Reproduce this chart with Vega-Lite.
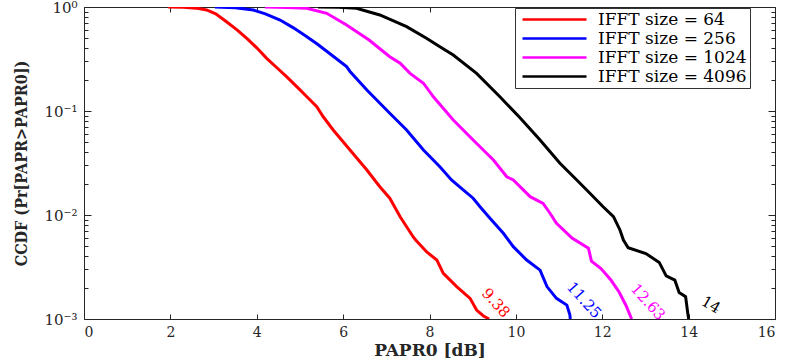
{
  "$schema": "https://vega.github.io/schema/vega-lite/v6.json",
  "width": 691,
  "height": 312,
  "autosize": {"type": "none"},
  "padding": {"left": 84, "top": 7, "right": 14, "bottom": 41},
  "background": "white",
  "config": {
    "view": {"stroke": null},
    "axis": {"grid": false, "domainColor": "#262626", "tickColor": "#262626", "labelColor": "#262626", "titleColor": "#262626", "labelFont": "DejaVu Serif", "titleFont": "DejaVu Serif"}
  },
  "datasets": {
    "curves": [
      {"series": "IFFT size = 64", "x": 1.95, "y": 1.0},
      {"series": "IFFT size = 64", "x": 2.3, "y": 0.995},
      {"series": "IFFT size = 64", "x": 2.6, "y": 0.975},
      {"series": "IFFT size = 64", "x": 2.84, "y": 0.936},
      {"series": "IFFT size = 64", "x": 3.05, "y": 0.86},
      {"series": "IFFT size = 64", "x": 3.3, "y": 0.722},
      {"series": "IFFT size = 64", "x": 3.55, "y": 0.6},
      {"series": "IFFT size = 64", "x": 3.77, "y": 0.5},
      {"series": "IFFT size = 64", "x": 4.0, "y": 0.405},
      {"series": "IFFT size = 64", "x": 4.23, "y": 0.321},
      {"series": "IFFT size = 64", "x": 4.46, "y": 0.262},
      {"series": "IFFT size = 64", "x": 4.69, "y": 0.214},
      {"series": "IFFT size = 64", "x": 4.95, "y": 0.168},
      {"series": "IFFT size = 64", "x": 5.16, "y": 0.137},
      {"series": "IFFT size = 64", "x": 5.39, "y": 0.11},
      {"series": "IFFT size = 64", "x": 5.54, "y": 0.088},
      {"series": "IFFT size = 64", "x": 5.77, "y": 0.0657},
      {"series": "IFFT size = 64", "x": 6.16, "y": 0.0422},
      {"series": "IFFT size = 64", "x": 6.55, "y": 0.0271},
      {"series": "IFFT size = 64", "x": 6.85, "y": 0.0187},
      {"series": "IFFT size = 64", "x": 7.08, "y": 0.0145},
      {"series": "IFFT size = 64", "x": 7.32, "y": 0.00963},
      {"series": "IFFT size = 64", "x": 7.62, "y": 0.00618},
      {"series": "IFFT size = 64", "x": 7.68, "y": 0.00575},
      {"series": "IFFT size = 64", "x": 7.93, "y": 0.00443},
      {"series": "IFFT size = 64", "x": 8.17, "y": 0.00369},
      {"series": "IFFT size = 64", "x": 8.32, "y": 0.00275},
      {"series": "IFFT size = 64", "x": 8.63, "y": 0.00205},
      {"series": "IFFT size = 64", "x": 8.94, "y": 0.00158},
      {"series": "IFFT size = 64", "x": 9.09, "y": 0.00122},
      {"series": "IFFT size = 64", "x": 9.25, "y": 0.00107},
      {"series": "IFFT size = 64", "x": 9.38, "y": 0.001},
      {"series": "IFFT size = 256", "x": 3.03, "y": 1.0},
      {"series": "IFFT size = 256", "x": 3.5, "y": 0.985},
      {"series": "IFFT size = 256", "x": 3.92, "y": 0.936},
      {"series": "IFFT size = 256", "x": 4.2, "y": 0.86},
      {"series": "IFFT size = 256", "x": 4.54, "y": 0.75},
      {"series": "IFFT size = 256", "x": 4.85, "y": 0.63},
      {"series": "IFFT size = 256", "x": 5.16, "y": 0.518},
      {"series": "IFFT size = 256", "x": 5.4, "y": 0.44},
      {"series": "IFFT size = 256", "x": 5.62, "y": 0.375},
      {"series": "IFFT size = 256", "x": 6.08, "y": 0.267},
      {"series": "IFFT size = 256", "x": 6.16, "y": 0.24},
      {"series": "IFFT size = 256", "x": 6.55, "y": 0.159},
      {"series": "IFFT size = 256", "x": 7.08, "y": 0.0951},
      {"series": "IFFT size = 256", "x": 7.47, "y": 0.0657},
      {"series": "IFFT size = 256", "x": 7.86, "y": 0.0422},
      {"series": "IFFT size = 256", "x": 8.24, "y": 0.0291},
      {"series": "IFFT size = 256", "x": 8.51, "y": 0.0217},
      {"series": "IFFT size = 256", "x": 8.78, "y": 0.0174},
      {"series": "IFFT size = 256", "x": 9.01, "y": 0.0145},
      {"series": "IFFT size = 256", "x": 9.17, "y": 0.012},
      {"series": "IFFT size = 256", "x": 9.4, "y": 0.00929},
      {"series": "IFFT size = 256", "x": 9.71, "y": 0.00667},
      {"series": "IFFT size = 256", "x": 9.94, "y": 0.00496},
      {"series": "IFFT size = 256", "x": 10.25, "y": 0.00369},
      {"series": "IFFT size = 256", "x": 10.56, "y": 0.00295},
      {"series": "IFFT size = 256", "x": 10.72, "y": 0.00205},
      {"series": "IFFT size = 256", "x": 10.94, "y": 0.00158},
      {"series": "IFFT size = 256", "x": 11.18, "y": 0.00136},
      {"series": "IFFT size = 256", "x": 11.25, "y": 0.0011},
      {"series": "IFFT size = 256", "x": 11.26, "y": 0.001},
      {"series": "IFFT size = 1024", "x": 4.19, "y": 1.0},
      {"series": "IFFT size = 1024", "x": 4.7, "y": 0.99},
      {"series": "IFFT size = 1024", "x": 5.16, "y": 0.972},
      {"series": "IFFT size = 1024", "x": 5.62, "y": 0.87},
      {"series": "IFFT size = 1024", "x": 6.08, "y": 0.671},
      {"series": "IFFT size = 1024", "x": 6.6, "y": 0.482},
      {"series": "IFFT size = 1024", "x": 7.08, "y": 0.333},
      {"series": "IFFT size = 1024", "x": 7.32, "y": 0.288},
      {"series": "IFFT size = 1024", "x": 7.55, "y": 0.23},
      {"series": "IFFT size = 1024", "x": 7.86, "y": 0.185},
      {"series": "IFFT size = 1024", "x": 8.09, "y": 0.137},
      {"series": "IFFT size = 1024", "x": 8.55, "y": 0.0819},
      {"series": "IFFT size = 1024", "x": 9.01, "y": 0.0526},
      {"series": "IFFT size = 1024", "x": 9.48, "y": 0.0338},
      {"series": "IFFT size = 1024", "x": 9.79, "y": 0.0233},
      {"series": "IFFT size = 1024", "x": 9.94, "y": 0.0217},
      {"series": "IFFT size = 1024", "x": 10.33, "y": 0.015},
      {"series": "IFFT size = 1024", "x": 10.63, "y": 0.0129},
      {"series": "IFFT size = 1024", "x": 10.79, "y": 0.0104},
      {"series": "IFFT size = 1024", "x": 10.94, "y": 0.00832},
      {"series": "IFFT size = 1024", "x": 11.3, "y": 0.006},
      {"series": "IFFT size = 1024", "x": 11.68, "y": 0.0048},
      {"series": "IFFT size = 1024", "x": 11.75, "y": 0.0036},
      {"series": "IFFT size = 1024", "x": 11.97, "y": 0.00305},
      {"series": "IFFT size = 1024", "x": 12.2, "y": 0.00237},
      {"series": "IFFT size = 1024", "x": 12.39, "y": 0.00182},
      {"series": "IFFT size = 1024", "x": 12.55, "y": 0.00135},
      {"series": "IFFT size = 1024", "x": 12.68, "y": 0.001},
      {"series": "IFFT size = 4096", "x": 5.42, "y": 1.0},
      {"series": "IFFT size = 4096", "x": 5.9, "y": 0.995},
      {"series": "IFFT size = 4096", "x": 6.31, "y": 0.972},
      {"series": "IFFT size = 4096", "x": 6.85, "y": 0.838},
      {"series": "IFFT size = 4096", "x": 7.47, "y": 0.647},
      {"series": "IFFT size = 4096", "x": 7.93, "y": 0.5},
      {"series": "IFFT size = 4096", "x": 8.24, "y": 0.415},
      {"series": "IFFT size = 4096", "x": 8.55, "y": 0.345},
      {"series": "IFFT size = 4096", "x": 9.09, "y": 0.23},
      {"series": "IFFT size = 4096", "x": 9.63, "y": 0.137},
      {"series": "IFFT size = 4096", "x": 10.09, "y": 0.0866},
      {"series": "IFFT size = 4096", "x": 10.56, "y": 0.0526},
      {"series": "IFFT size = 4096", "x": 11.02, "y": 0.0314},
      {"series": "IFFT size = 4096", "x": 11.41, "y": 0.0217},
      {"series": "IFFT size = 4096", "x": 11.72, "y": 0.0161},
      {"series": "IFFT size = 4096", "x": 12.02, "y": 0.012},
      {"series": "IFFT size = 4096", "x": 12.26, "y": 0.00963},
      {"series": "IFFT size = 4096", "x": 12.41, "y": 0.00718},
      {"series": "IFFT size = 4096", "x": 12.49, "y": 0.00575},
      {"series": "IFFT size = 4096", "x": 12.6, "y": 0.00485},
      {"series": "IFFT size = 4096", "x": 13.01, "y": 0.00426},
      {"series": "IFFT size = 4096", "x": 13.32, "y": 0.0035},
      {"series": "IFFT size = 4096", "x": 13.48, "y": 0.0026},
      {"series": "IFFT size = 4096", "x": 13.68, "y": 0.00237},
      {"series": "IFFT size = 4096", "x": 13.78, "y": 0.0018},
      {"series": "IFFT size = 4096", "x": 13.93, "y": 0.00164},
      {"series": "IFFT size = 4096", "x": 13.98, "y": 0.00114},
      {"series": "IFFT size = 4096", "x": 14.0, "y": 0.001}
    ],
    "labels": [
      {"series": "IFFT size = 64", "x": 9.54, "y": 0.00143, "label": "9.38"},
      {"series": "IFFT size = 256", "x": 11.58, "y": 0.00152, "label": "11.25"},
      {"series": "IFFT size = 1024", "x": 13.06, "y": 0.00146, "label": "12.63"},
      {"series": "IFFT size = 4096", "x": 14.52, "y": 0.00137, "label": "14"}
    ]
  },
  "layer": [
    {
      "data": {"name": "curves"},
      "mark": {"type": "line", "strokeWidth": 3, "clip": true},
      "encoding": {
        "x": {"field": "x", "type": "quantitative", "scale": {"domain": [0, 16], "nice": false, "zero": false},
          "axis": {"orient": "bottom", "values": [0, 2, 4, 6, 8, 10, 12, 14, 16], "tickSize": -5, "labelPadding": 11, "labelFontSize": 14, "title": "PAPR0 [dB]", "titleFontSize": 17, "titleFontWeight": "bold", "titlePadding": 3}},
        "y": {"field": "y", "type": "quantitative", "scale": {"type": "log", "domain": [0.001, 1], "nice": false},
          "axis": {"orient": "left",
            "values": [0.001, 0.002, 0.003, 0.004, 0.005, 0.006, 0.007, 0.008, 0.009, 0.01, 0.02, 0.03, 0.04, 0.05, 0.06, 0.07, 0.08, 0.09, 0.1, 0.2, 0.3, 0.4, 0.5, 0.6, 0.7, 0.8, 0.9, 1],
            "tickSize": {"condition": {"test": "datum.value == 1 || datum.value == 0.1 || datum.value == 0.01 || datum.value == 0.001", "value": -7}, "value": -4},
            "labelExpr": "datum.value == 1 ? '10⁰' : datum.value == 0.1 ? '10⁻¹' : datum.value == 0.01 ? '10⁻²' : datum.value == 0.001 ? '10⁻³' : ''",
            "labelPadding": 14, "labelFontSize": 15, "labelFlush": false, "labelOverlap": false,
            "title": "CCDF (Pr[PAPR>PAPR0])", "titleFont": "DejaVu Serif Condensed, Liberation Serif", "titleFontSize": 16, "titleFontWeight": "bold", "titlePadding": 14}},
        "color": {"field": "series", "type": "nominal",
          "scale": {"domain": ["IFFT size = 64", "IFFT size = 256", "IFFT size = 1024", "IFFT size = 4096"], "range": ["#ff0000", "#0000ff", "#ff00ff", "#000000"]},
          "legend": {"title": null, "orient": "none", "legendX": 431, "legendY": 1, "direction": "vertical",
            "symbolType": "M-1,0H15", "symbolSize": 64, "symbolStrokeWidth": 2.5, "symbolFillColor": null,
            "labelFont": "DejaVu Serif", "labelFontSize": 17, "labelColor": "#000000", "labelOffset": 63, "labelLimit": 400,
            "rowPadding": 1, "padding": 3, "strokeColor": "#333333", "fillColor": "white"}}
      }
    },
    {
      "data": {"name": "labels"},
      "mark": {"type": "text", "font": "DejaVu Serif", "fontSize": 15, "align": "center", "baseline": "middle",
        "angle": {"expr": "datum.label == '14' ? 30 : 48"}},
      "encoding": {
        "x": {"field": "x", "type": "quantitative", "scale": {"domain": [0, 16], "nice": false, "zero": false},
          "axis": {"orient": "top", "values": [0, 2, 4, 6, 8, 10, 12, 14, 16], "tickSize": -5, "labels": false, "title": null}},
        "y": {"field": "y", "type": "quantitative", "scale": {"type": "log", "domain": [0.001, 1], "nice": false},
          "axis": {"orient": "right",
            "values": [0.001, 0.002, 0.003, 0.004, 0.005, 0.006, 0.007, 0.008, 0.009, 0.01, 0.02, 0.03, 0.04, 0.05, 0.06, 0.07, 0.08, 0.09, 0.1, 0.2, 0.3, 0.4, 0.5, 0.6, 0.7, 0.8, 0.9, 1],
            "tickSize": {"condition": {"test": "datum.value == 1 || datum.value == 0.1 || datum.value == 0.01 || datum.value == 0.001", "value": -7}, "value": -4},
            "labels": false, "title": null}},
        "text": {"field": "label", "type": "nominal"},
        "color": {"field": "series", "type": "nominal", "legend": null}
      }
    }
  ],
  "resolve": {"axis": {"x": "independent", "y": "independent"}}
}
